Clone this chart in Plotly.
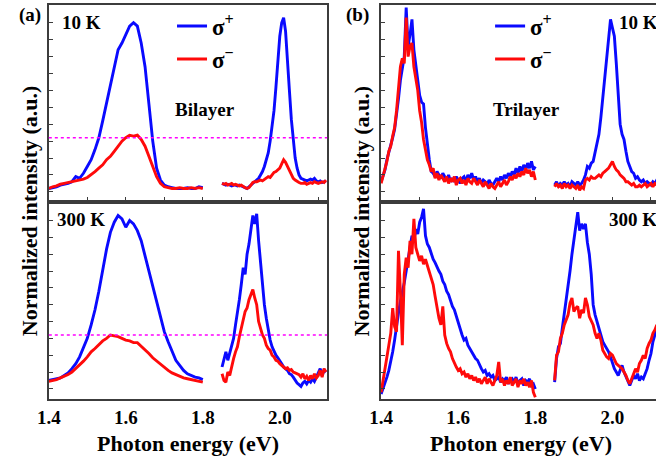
import numpy as np
import plotly.graph_objects as go

# ---------------------------------------------------------------------------
# Energy grids (eV). Spectra are recorded in two windows with a gap in between.
# ---------------------------------------------------------------------------
E_LEFT_COARSE = np.round(np.linspace(1.40, 1.80, 41), 3).tolist()
E_LEFT_FINE = np.round(np.linspace(1.40, 1.80, 81), 3).tolist()
E_RIGHT = np.round(np.linspace(1.85, 2.12, 55), 3).tolist()

# ---------------------------------------------------------------------------
# Bilayer, 10 K
# ---------------------------------------------------------------------------
bi10_plus_left = [0.02, 0.025, 0.03, 0.04, 0.045, 0.05, 0.06, 0.09, 0.08, 0.11,
                  0.15, 0.19, 0.25, 0.32, 0.42, 0.53, 0.64, 0.74, 0.84, 0.88,
                  0.93, 0.98, 1.00, 0.98, 0.88, 0.74, 0.52, 0.30, 0.14, 0.07,
                  0.04, 0.03, 0.025, 0.02, 0.02, 0.02, 0.025, 0.02, 0.02, 0.03,
                  0.025]
bi10_minus_left = [0.02, 0.03, 0.035, 0.045, 0.05, 0.055, 0.06, 0.065, 0.07, 0.075,
                   0.085, 0.10, 0.12, 0.14, 0.16, 0.19, 0.21, 0.24, 0.27, 0.30,
                   0.32, 0.335, 0.33, 0.335, 0.31, 0.27, 0.21, 0.15, 0.09, 0.05,
                   0.03, 0.025, 0.02, 0.02, 0.025, 0.02, 0.02, 0.025, 0.02, 0.025,
                   0.02]
bi10_plus_right = [0.05, 0.045, 0.04, 0.045, 0.04, 0.035, 0.04, 0.04, 0.035, 0.04,
                   0.035, 0.03, 0.025, 0.02, 0.03, 0.04, 0.05, 0.055, 0.065, 0.08,
                   0.10, 0.12, 0.15, 0.19, 0.23, 0.30, 0.38, 0.48, 0.62, 0.78,
                   0.92, 1.00, 1.03, 0.95, 0.80, 0.60, 0.43, 0.30, 0.20, 0.14,
                   0.10, 0.08, 0.075, 0.07, 0.065, 0.07, 0.075, 0.07, 0.08, 0.065,
                   0.06, 0.065, 0.055, 0.06, 0.065]
bi10_minus_right = [0.05, 0.045, 0.05, 0.04, 0.045, 0.05, 0.04, 0.045, 0.04, 0.035,
                    0.04, 0.03, 0.025, 0.02, 0.025, 0.04, 0.055, 0.06, 0.06, 0.065,
                    0.07, 0.065, 0.075, 0.08, 0.09, 0.085, 0.10, 0.115, 0.12, 0.13,
                    0.14, 0.165, 0.19, 0.175, 0.15, 0.12, 0.095, 0.08, 0.07, 0.06,
                    0.055, 0.05, 0.05, 0.055, 0.045, 0.05, 0.055, 0.05, 0.06, 0.055,
                    0.05, 0.055, 0.06, 0.055, 0.07]

# ---------------------------------------------------------------------------
# Bilayer, 300 K
# ---------------------------------------------------------------------------
bi300_plus_left = [0.05, 0.055, 0.06, 0.065, 0.08, 0.095, 0.12, 0.15, 0.19, 0.24,
                   0.30, 0.38, 0.47, 0.58, 0.71, 0.83, 0.93, 0.99, 1.03, 1.01,
                   0.96, 1.00, 0.98, 0.94, 0.88, 0.79, 0.70, 0.60, 0.51, 0.42,
                   0.34, 0.28, 0.22, 0.17, 0.14, 0.11, 0.09, 0.08, 0.07, 0.065,
                   0.055]
bi300_minus_left = [0.045, 0.05, 0.055, 0.065, 0.075, 0.085, 0.10, 0.12, 0.14, 0.165,
                    0.19, 0.22, 0.24, 0.265, 0.285, 0.30, 0.32, 0.315, 0.31, 0.30,
                    0.29, 0.285, 0.275, 0.275, 0.255, 0.235, 0.21, 0.185, 0.165, 0.145,
                    0.125, 0.11, 0.095, 0.085, 0.075, 0.065, 0.06, 0.055, 0.05, 0.045,
                    0.04]
bi300_plus_right = [0.13, 0.18, 0.22, 0.17, 0.21, 0.26, 0.30, 0.38, 0.45, 0.53,
                    0.62, 0.72, 0.68, 0.80, 0.86, 0.95, 1.03, 0.98, 1.04, 0.88,
                    0.74, 0.62, 0.50, 0.42, 0.35, 0.29, 0.25, 0.22, 0.20, 0.185,
                    0.17, 0.15, 0.13, 0.12, 0.11, 0.09, 0.085, 0.07, 0.05, 0.035,
                    0.025, 0.015, 0.035, 0.045, 0.03, 0.05, 0.04, 0.06, 0.045, 0.07,
                    0.09, 0.12, 0.08, 0.11, 0.10]
bi300_minus_right = [0.09, 0.05, 0.04, 0.10, 0.08, 0.14, 0.18, 0.22, 0.25, 0.31,
                     0.36, 0.41, 0.46, 0.48, 0.53, 0.56, 0.59, 0.54, 0.50, 0.40,
                     0.35, 0.32, 0.30, 0.26, 0.24, 0.23, 0.20, 0.19, 0.17, 0.165,
                     0.15, 0.14, 0.135, 0.12, 0.125, 0.11, 0.115, 0.10, 0.095, 0.09,
                     0.085, 0.07, 0.09, 0.06, 0.075, 0.05, 0.08, 0.06, 0.09, 0.065,
                     0.08, 0.11, 0.07, 0.12, 0.10]

# ---------------------------------------------------------------------------
# Trilayer, 10 K
# ---------------------------------------------------------------------------
tri10_plus_left = [0.06, 0.10, 0.13, 0.19, 0.23, 0.28, 0.32, 0.37, 0.45, 0.55,
                   0.66, 0.74, 0.80, 1.09, 0.86, 0.93, 1.02, 0.84, 0.76, 0.65,
                   0.57, 0.53, 0.52, 0.38, 0.27, 0.19, 0.12, 0.11, 0.09, 0.12,
                   0.10, 0.08, 0.11, 0.09, 0.07, 0.10, 0.06, 0.08, 0.06, 0.09,
                   0.07, 0.05, 0.08, 0.09, 0.06, 0.10, 0.08, 0.11, 0.07, 0.09,
                   0.06, 0.08, 0.05, 0.07, 0.06, 0.04, 0.07, 0.05, 0.04, 0.06,
                   0.08, 0.06, 0.09, 0.07, 0.10, 0.08, 0.11, 0.09, 0.12, 0.10,
                   0.14, 0.11, 0.15, 0.12, 0.16, 0.13, 0.17, 0.14, 0.18, 0.13,
                   0.15]
tri10_minus_left = [0.05, 0.09, 0.14, 0.18, 0.24, 0.27, 0.33, 0.38, 0.48, 0.60,
                    0.74, 0.79, 0.76, 1.03, 0.80, 0.86, 0.88, 0.74, 0.68, 0.60,
                    0.48, 0.41, 0.31, 0.25, 0.19, 0.16, 0.12, 0.14, 0.08, 0.11,
                    0.07, 0.10, 0.08, 0.06, 0.09, 0.05, 0.08, 0.06, 0.09, 0.04,
                    0.07, 0.08, 0.05, 0.07, 0.04, 0.08, 0.06, 0.05, 0.08, 0.06,
                    0.04, 0.07, 0.05, 0.03, 0.06, 0.04, 0.02, 0.05, 0.03, 0.02,
                    0.04, 0.06, 0.03, 0.05, 0.07, 0.04, 0.06, 0.09, 0.07, 0.10,
                    0.08, 0.11, 0.09, 0.12, 0.10, 0.14, 0.11, 0.13, 0.09, 0.12,
                    0.07]
tri10_plus_right = [0.04, 0.06, 0.03, 0.05, 0.04, 0.06, 0.04, 0.05, 0.03, 0.06,
                    0.05, 0.04, 0.06, 0.04, 0.05, 0.07, 0.10, 0.15, 0.14, 0.17,
                    0.18, 0.23, 0.28, 0.34, 0.44, 0.55, 0.68, 0.80, 0.92, 1.02,
                    0.97, 0.92, 0.76, 0.56, 0.40, 0.34, 0.31, 0.24, 0.18, 0.15,
                    0.12, 0.11, 0.08, 0.09, 0.07, 0.06, 0.07, 0.05, 0.06, 0.05,
                    0.04, 0.06, 0.05, 0.07, 0.06]
tri10_minus_right = [0.03, 0.05, 0.03, 0.04, 0.02, 0.05, 0.03, 0.04, 0.02, 0.04,
                     0.03, 0.02, 0.04, 0.01, 0.03, 0.02, 0.07, 0.08, 0.07, 0.09,
                     0.08, 0.08, 0.09, 0.10, 0.09, 0.11, 0.12, 0.13, 0.14, 0.16,
                     0.18, 0.15, 0.13, 0.12, 0.10, 0.09, 0.08, 0.06, 0.06, 0.05,
                     0.04, 0.05, 0.03, 0.03, 0.04, 0.03, 0.04, 0.05, 0.03, 0.04,
                     0.05, 0.03, 0.05, 0.04, 0.05]

# ---------------------------------------------------------------------------
# Trilayer, 300 K
# ---------------------------------------------------------------------------
tri300_plus_left = [-0.03, 0.00, 0.03, 0.07, 0.11, 0.16, 0.22, 0.29, 0.38, 0.45,
                    0.52, 0.57, 0.63, 0.70, 0.78, 0.86, 0.91, 0.88, 0.95, 0.92,
                    0.99, 1.02, 1.07, 0.91, 0.86, 0.84, 0.80, 0.77, 0.75, 0.72,
                    0.70, 0.68, 0.64, 0.62, 0.58, 0.56, 0.52, 0.49, 0.47, 0.43,
                    0.40, 0.36, 0.32, 0.29, 0.30, 0.26, 0.24, 0.22, 0.20, 0.18,
                    0.17, 0.14, 0.12, 0.10, 0.11, 0.08, 0.09, 0.07, 0.08, 0.05,
                    0.06, 0.07, 0.04, 0.06, 0.05, 0.07, 0.03, 0.05, 0.06, 0.04,
                    0.07, 0.03, 0.05, 0.06, 0.02, 0.05, 0.04, 0.06, 0.02, 0.03,
                    0.00]
tri300_minus_left = [-0.02, 0.06, 0.12, 0.19, 0.26, 0.33, 0.48, 0.37, 0.34, 0.82,
                     0.58, 0.26, 0.68, 0.78, 0.72, 0.88, 0.80, 1.01, 0.84, 0.80,
                     0.76, 0.79, 0.74, 0.77, 0.73, 0.70, 0.66, 0.62, 0.55, 0.48,
                     0.42, 0.38, 0.49, 0.32, 0.27, 0.24, 0.22, 0.18, 0.15, 0.13,
                     0.11, 0.12, 0.09, 0.10, 0.07, 0.09, 0.06, 0.08, 0.05, 0.07,
                     0.04, 0.06, 0.03, 0.05, 0.07, 0.03, 0.06, 0.04, 0.02, 0.05,
                     0.08, 0.16, 0.04, 0.06, 0.02, 0.05, 0.03, 0.07, 0.02, 0.04,
                     0.06, 0.01, 0.05, 0.03, 0.06, 0.02, 0.04, 0.01, 0.05, -0.02,
                     -0.05]
tri300_plus_right = [0.04, 0.18, 0.25, 0.27, 0.36, 0.44, 0.52, 0.60, 0.70, 0.80,
                     0.88, 0.95, 1.05, 0.94, 0.98, 0.95, 0.98, 0.87, 0.80, 0.68,
                     0.50, 0.44, 0.40, 0.36, 0.33, 0.28, 0.26, 0.24, 0.22, 0.19,
                     0.15, 0.12, 0.10, 0.08, 0.11, 0.14, 0.10, 0.07, 0.04, 0.02,
                     0.05, 0.08, 0.06, 0.09, 0.05, 0.07, 0.06, 0.09, 0.12, 0.17,
                     0.21, 0.28, 0.32, 0.36, 0.38]
tri300_minus_right = [0.05, 0.20, 0.22, 0.30, 0.33, 0.38, 0.41, 0.44, 0.51, 0.54,
                      0.46, 0.48, 0.49, 0.42, 0.47, 0.45, 0.54, 0.50, 0.43, 0.40,
                      0.38, 0.33, 0.30, 0.33, 0.29, 0.23, 0.21, 0.19, 0.18, 0.21,
                      0.20, 0.17, 0.15, 0.14, 0.13, 0.12, 0.10, 0.08, 0.05, 0.03,
                      0.06, 0.09, 0.12, 0.10, 0.15, 0.17, 0.20, 0.18, 0.24, 0.27,
                      0.29, 0.33, 0.35, 0.38, 0.36]

# Level of the dotted guide line in the bilayer panels
GUIDE_LEVEL = 0.32

# Axis tick positions / labels
X_TICKS = [1.4, 1.5, 1.6, 1.7, 1.8, 1.9, 2.0, 2.1]
X_TICK_TEXT = ["1.4", "", "1.6", "", "1.8", "", "2.0", ""]
Y_TICKS = [0.0, 0.1, 0.2, 0.3, 0.4, 0.5, 0.6, 0.7, 0.8, 0.9, 1.0]

BLUE = "#0a0aff"
RED = "#ff0a0a"
FONT = "Liberation Serif"
AXIS_COLOR = "#3c3c3c"


def join_windows(x_left, y_left, x_right, y_right):
    """Concatenate the two spectral windows with a break between them."""
    return list(x_left) + [None] + list(x_right), list(y_left) + [None] + list(y_right)


fig = go.Figure()

panels = [
    # (xaxis, yaxis, left grid, plus-left, plus-right, minus-left, minus-right, legends)
    ("x", "y", E_LEFT_COARSE, bi10_plus_left, bi10_plus_right,
     bi10_minus_left, bi10_minus_right, ("legend", "legend2")),
    ("x2", "y2", E_LEFT_COARSE, bi300_plus_left, bi300_plus_right,
     bi300_minus_left, bi300_minus_right, None),
    ("x3", "y3", E_LEFT_FINE, tri10_plus_left, tri10_plus_right,
     tri10_minus_left, tri10_minus_right, ("legend3", "legend4")),
    ("x4", "y4", E_LEFT_FINE, tri300_plus_left, tri300_plus_right,
     tri300_minus_left, tri300_minus_right, None),
]

for xa, ya, grid, pl, pr, ml, mr, legs in panels:
    for name, left, right, color, idx in (("σ<sup>+</sup>", pl, pr, BLUE, 0),
                                          ("σ<sup>−</sup>", ml, mr, RED, 1)):
        x, y = join_windows(grid, left, E_RIGHT, right)
        kw = dict(showlegend=False)
        if legs is not None:
            kw = dict(showlegend=True, legend=legs[idx])
        fig.add_trace(go.Scatter(
            x=x, y=y, mode="lines", name=name, xaxis=xa, yaxis=ya,
            connectgaps=False, line=dict(color=color, width=2.9), **kw))

W, H = 656, 460
XA = [37.5 / W, 321 / W]
XB = [376 / W, 1.0]
Y_TOP = [(H - 202) / H, (H - 5) / H]
Y_BOT = [(H - 399) / H, (H - 202) / H]

tick_font = dict(family=FONT, size=19, color="black", weight="bold")


def xaxis(domain, anchor, rng, labels):
    return dict(domain=domain, anchor=anchor, range=rng, showgrid=False, zeroline=False,
                showline=True, linecolor=AXIS_COLOR, linewidth=1.5, mirror=True,
                tickvals=X_TICKS, ticktext=X_TICK_TEXT,
                ticks="" if labels else "inside", ticklen=5, tickwidth=1.3,
                tickcolor=AXIS_COLOR, showticklabels=labels, tickfont=tick_font)


def yaxis(domain, anchor, rng, mirror):
    return dict(domain=domain, anchor=anchor, range=rng, showgrid=False, zeroline=False,
                showline=True, linecolor=AXIS_COLOR, linewidth=1.5, mirror=mirror,
                tickvals=Y_TICKS, ticks="inside", ticklen=4, tickwidth=1.3,
                tickcolor=AXIS_COLOR, showticklabels=False)


RANGE_A = [1.4, 2.123]
RANGE_B = [1.4, 2.113]
YR_TOP = [-0.06, 1.105]
YR_BOT = [-0.06, 1.11]

legend_font = dict(family=FONT, size=23, color="black", weight="bold")


def legend_at(px, py):
    return dict(x=px / W, y=1 - py / H, xanchor="left", yanchor="middle",
                bgcolor="rgba(0,0,0,0)", borderwidth=0, font=legend_font,
                tracegroupgap=0)


fig.update_layout(
    width=W, height=H, margin=dict(l=0, r=0, t=0, b=0),
    paper_bgcolor="white", plot_bgcolor="white",
    xaxis=xaxis(XA, "y", RANGE_A, False), yaxis=yaxis(Y_TOP, "x", YR_TOP, True),
    xaxis2=xaxis(XA, "y2", RANGE_A, True), yaxis2=yaxis(Y_BOT, "x2", YR_BOT, True),
    xaxis3=xaxis(XB, "y3", RANGE_B, False), yaxis3=yaxis(Y_TOP, "x3", YR_TOP, False),
    xaxis4=xaxis(XB, "y4", RANGE_B, True), yaxis4=yaxis(Y_BOT, "x4", YR_BOT, False),
    legend=legend_at(163, 26), legend2=legend_at(163, 59),
    legend3=legend_at(487, 26), legend4=legend_at(487, 59),
)

# Dotted guide lines in the bilayer panels
for xa, ya in (("x", "y"), ("x2", "y2")):
    fig.add_shape(type="line", xref=f"{xa} domain", yref=ya, x0=0, x1=1,
                  y0=GUIDE_LEVEL, y1=GUIDE_LEVEL,
                  line=dict(color="#ff00ff", width=1.5, dash="dot"))


def label(text, px, py, size=19, angle=0):
    fig.add_annotation(text=f"<b>{text}</b>", x=px / W, y=1 - py / H,
                       xref="paper", yref="paper", showarrow=False,
                       xanchor="center", yanchor="middle", textangle=angle,
                       font=dict(family=FONT, size=size, color="black"))


label("(a)", 18, 15.5)
label("(b)", 352, 15.5)
label("10 K", 70.5, 22.5)
label("300 K", 70.5, 219.5)
label("Bilayer", 197, 110)
label("10 K", 638.5, 22.5)
label("300 K", 632.5, 219.5)
label("Trilayer", 524, 110)
label("Normalized intensity (a.u.)", 17.5, 211, size=22, angle=-90)
label("Normalized intensity (a.u.)", 356, 211, size=22, angle=-90)
label("Photon energy (eV)", 179, 443, size=22)
label("Photon energy (eV)", 518, 443, size=22)

fig.write_html("out.html")
